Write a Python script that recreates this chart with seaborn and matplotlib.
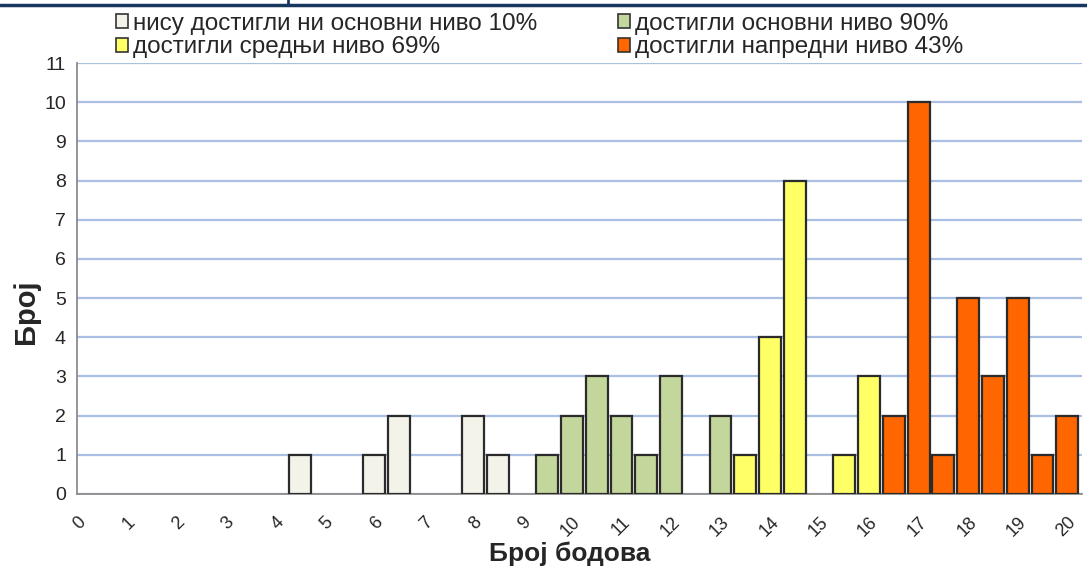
import matplotlib
matplotlib.use("Agg")
import matplotlib.pyplot as plt
from matplotlib.patches import Patch
from matplotlib.lines import Line2D
import seaborn as sns
import pandas as pd

# all score categories on the x axis (0, 0.5, ..., 20)
categories = [str(i / 2).replace('.0', '') for i in range(41)]

# bars that have a count
scores = ['4.5', '6', '6.5', '8', '8.5',
          '9.5', '10', '10.5', '11', '11.5', '12', '13',
          '13.5', '14', '14.5', '15.5', '16',
          '16.5', '17', '17.5', '18', '18.5', '19', '19.5', '20']
counts = [1, 1, 2, 2, 1,
          1, 2, 3, 2, 1, 3, 2,
          1, 4, 8, 1, 3,
          2, 10, 1, 5, 3, 5, 1, 2]
levels = ['none'] * 5 + ['basic'] * 7 + ['middle'] * 5 + ['advanced'] * 8

level_names = {
    'none': 'нису достигли ни основни ниво 10%',
    'basic': 'достигли основни ниво 90%',
    'middle': 'достигли средњи ниво 69%',
    'advanced': 'достигли напредни ниво 43%',
}
colors = {'none': '#F3F3EA', 'basic': '#C3D69B', 'middle': '#FFFF66', 'advanced': '#FF6600'}

df = pd.DataFrame({'score': scores, 'count': counts, 'level': levels})

sns.set_style("white")
plt.rcParams['font.family'] = ['Liberation Sans', 'DejaVu Sans']

fig = plt.figure(figsize=(10.87, 5.68), dpi=100)
ax = fig.add_axes([77 / 1087, 74 / 568, 1005 / 1087, 431 / 568])

sns.barplot(data=df, x='score', y='count', hue='level', order=categories,
            hue_order=['none', 'basic', 'middle', 'advanced'], palette=colors,
            saturation=1, dodge=False, width=0.88, edgecolor='#2b2b2b', linewidth=1.6,
            legend=False, ax=ax, zorder=3)

ax.set_xlim(0, 40.6)
ax.set_ylim(0, 11)
ax.set_yticks(range(12))
ax.set_xticks(range(41))
ax.set_xticklabels([c if i % 2 == 0 else '' for i, c in enumerate(categories)],
                   rotation=45, ha='right', rotation_mode='anchor')
ax.tick_params(axis='x', labelsize=13, length=5, color='#8c8c8c', direction='out', pad=9)
ax.tick_params(axis='y', labelsize=14, length=5, color='#8c8c8c', direction='out', pad=3)
ax.yaxis.grid(True, color='#A9BFE4', linewidth=1.6, zorder=0)
ax.set_axisbelow(True)
for s in ['top', 'right']:
    ax.spines[s].set_visible(False)
for s in ['left', 'bottom']:
    ax.spines[s].set_color('#8c8c8c')
    ax.spines[s].set_linewidth(1.3)
ax.set_xlabel('')
ax.set_ylabel('')

fig.text(570 / 1087, 14 / 568, 'Број бодова', ha='center', va='center',
         fontsize=19, fontweight='bold')
fig.text(26 / 1087, 1 - 312 / 568, 'Број', ha='center', va='center',
         rotation=90, fontsize=21, fontweight='bold')

# legend, two columns
def handle(key):
    return Patch(facecolor=colors[key], edgecolor='#333333', linewidth=1.2)

for keys, x0 in [(['none', 'middle'], 116), (['basic', 'advanced'], 618)]:
    leg = fig.legend([handle(k) for k in keys], [level_names[k] for k in keys],
                     loc='upper left', bbox_to_anchor=(x0 / 1087, 1 - 13 / 568),
                     frameon=False, fontsize=17.5, handlelength=0.5, handleheight=0.5,
                     handletextpad=0.2, labelspacing=0.05, borderpad=0, borderaxespad=0)

# dark header line from the slide
fig.add_artist(Line2D([0, 1], [1 - 5 / 568, 1 - 5 / 568], color='#17375E', linewidth=2.5))
fig.add_artist(Line2D([288 / 1087, 288 / 1087], [1, 1 - 5 / 568], color='#17375E', linewidth=2))

fig.savefig('out.png', dpi=100)
